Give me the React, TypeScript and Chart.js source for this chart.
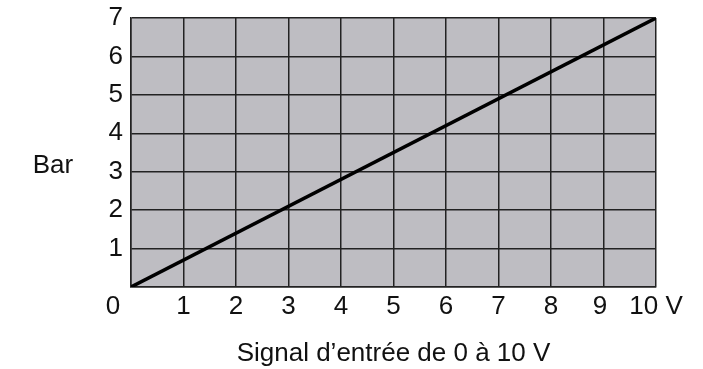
import React, { useEffect, useRef } from "react";
import { Chart, registerables } from "chart.js";

Chart.register(...registerables);

const lineX = [0, 10];
const lineY = [0, 7];
const xTickLabels = ["0", "1", "2", "3", "4", "5", "6", "7", "8", "9", "10 V"];
const yTickLabels = ["", "1", "2", "3", "4", "5", "6", "7"];
const xTitle = "Signal d\u2019entrée de 0 à 10 V";
const yTitle = "Bar";

const FONT = "'Liberation Sans', Arial, sans-serif";

export default function App() {
  const ref = useRef<HTMLCanvasElement | null>(null);
  useEffect(() => {
    if (!ref.current) return;
    const bgPlugin = {
      id: "plotBg",
      beforeDraw(chart: any) {
        const { ctx, chartArea } = chart;
        ctx.save();
        ctx.fillStyle = "#bebdc2";
        ctx.fillRect(chartArea.left, chartArea.top, chartArea.right - chartArea.left, chartArea.bottom - chartArea.top);
        ctx.restore();
      },
    };
    const yTitlePlugin = {
      id: "yTitleH",
      afterDraw(chart: any) {
        const { ctx, chartArea } = chart;
        ctx.save();
        ctx.font = `26px ${FONT}`;
        ctx.fillStyle = "#111";
        ctx.textAlign = "center";
        ctx.textBaseline = "middle";
        ctx.fillText(yTitle, 53, (chartArea.top + chartArea.bottom) / 2 + 13);
        ctx.restore();
      },
    };
    const chart = new Chart(ref.current, {
      type: "line",
      data: {
        datasets: [
          {
            data: lineX.map((x, i) => ({ x, y: lineY[i] })),
            borderColor: "#000",
            borderWidth: 3.5,
            pointRadius: 0,
            fill: false,
          },
        ],
      },
      options: {
        animation: false,
        responsive: false,
        maintainAspectRatio: false,
        layout: { padding: { left: 0, top: 18, right: 47, bottom: 0 } },
        plugins: { legend: { display: false }, tooltip: { enabled: false } },
        scales: {
          x: {
            type: "linear",
            min: 0,
            max: 10,
            afterFit(s: any) {
              s.height = 82;
              s.paddingLeft = 0;
              s.paddingRight = 0;
            },
            ticks: {
              stepSize: 1,
              autoSkip: false,
              maxRotation: 0,
              padding: 4,
              color: "#111",
              font: { family: FONT, size: 26 },
              callback(v: any) {
                const i = Math.round(Number(v));
                const t = xTickLabels[i] ?? "";
                if (i === 0) return t + "\u00a0\u00a0\u00a0\u00a0\u00a0";
                if (i === 9) return t + "\u00a0";
                return t;
              },
            },
            grid: { color: "#222", lineWidth: 1.5, drawTicks: false },
            border: { color: "#222", width: 1.5 },
            title: {
              display: true,
              text: xTitle,
              color: "#111",
              font: { family: FONT, size: 26 },
              padding: 0,
            },
          },
          y: {
            type: "linear",
            min: 0,
            max: 7,
            afterFit(s: any) {
              s.width = 131;
              s.paddingTop = 0;
              s.paddingBottom = 0;
            },
            ticks: {
              stepSize: 1,
              padding: 8,
              color: "#111",
              font: { family: FONT, size: 26 },
              callback(v: any) {
                return yTickLabels[Math.round(Number(v))] ?? "";
              },
            },
            grid: { color: "#222", lineWidth: 1.5, drawTicks: false },
            border: { color: "#222", width: 1.5 },
          },
        },
      },
      plugins: [bgPlugin, yTitlePlugin],
    });
    return () => chart.destroy();
  }, []);
  return (
    <div style={{ position: "fixed", left: 0, top: 0, width: 703, height: 369, background: "#fff" }}>
      <canvas ref={ref} width={703} height={369} style={{ width: 703, height: 369 }} />
    </div>
  );
}
